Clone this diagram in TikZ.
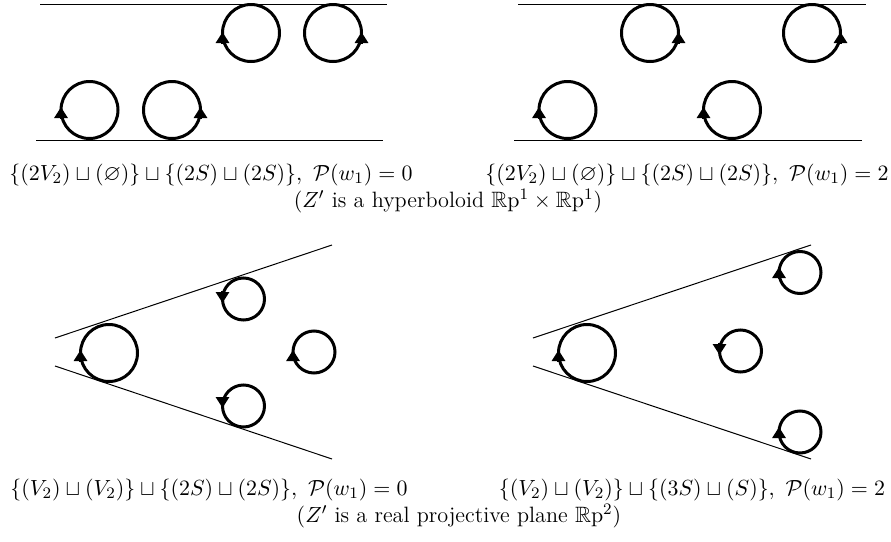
\documentclass[tikz,border=0pt]{standalone}
\usepackage{amsmath,amssymb}
\usepackage{tikz}
\usetikzlibrary{arrows.meta}

\begin{document}
\begin{tikzpicture}[x=0.5pt,y=-0.5pt,
			wall/.style={line width=0.5pt},
			loopline/.style={line width=1.5pt},
			tipmark/.style={line width=1.5pt, -{Triangle[length=5.5pt,width=6.5pt]}},
			caption/.style={inner sep=0pt, anchor=center, font=\fontsize{11.1}{13}\selectfont}]
			
			\useasboundingbox (0,0) rectangle (891,542);
			
			% hyperboloid, P(w_1)=0
			\draw[wall] (40,4) -- (387,4);
			\draw[wall] (36,140) -- (383,140);
			\draw[loopline] (251,33) circle[radius=28.5];
			\draw[loopline] (333,33) circle[radius=28.5];
			\draw[loopline] (89.5,110) circle[radius=28.5];
			\draw[loopline] (172,110) circle[radius=28.5];
			\draw[tipmark] (222.5,44) -- (222.5,32);
			\draw[tipmark] (361.5,44) -- (361.5,32);
			\draw[tipmark] (61,119) -- (61,107);
			\draw[tipmark] (200.5,119) -- (200.5,107);
			
			% hyperboloid, P(w_1)=2
			\draw[wall] (518,4) -- (866,4);
			\draw[wall] (514,140) -- (862,140);
			\draw[loopline] (650,33) circle[radius=28.5];
			\draw[loopline] (812,33) circle[radius=28.5];
			\draw[loopline] (567.5,110) circle[radius=28.5];
			\draw[loopline] (732,110) circle[radius=28.5];
			\draw[tipmark] (678.5,44) -- (678.5,32);
			\draw[tipmark] (840.5,44) -- (840.5,32);
			\draw[tipmark] (539,119) -- (539,107);
			\draw[tipmark] (703.5,119) -- (703.5,107);
			
			\node[caption] (capa) at (211,175) {$\{(2V_2)\sqcup(\varnothing)\}\sqcup\{(2S)\sqcup(2S)\},\ \mathcal{P}(w_1)=0$};
			\node[caption] (capb) at (687,175) {$\{(2V_2)\sqcup(\varnothing)\}\sqcup\{(2S)\sqcup(2S)\},\ \mathcal{P}(w_1)=2$};
			\node[caption] (capz) at (448,201) {$(Z'$ is a hyperboloid $\mathbb{R}\mathrm{p}^1\times\mathbb{R}\mathrm{p}^1)$};
			
			% projective plane, P(w_1)=0
			\draw[wall] (55,338) -- (332,245);
			\draw[wall] (55,366) -- (332,459);
			\draw[loopline] (109,353) circle[radius=28.5];
			\draw[loopline] (243.5,299) circle[radius=21];
			\draw[loopline] (314,352) circle[radius=21];
			\draw[loopline] (243.5,406) circle[radius=21];
			\draw[tipmark] (80.5,362) -- (80.5,350);
			\draw[tipmark] (222.5,291) -- (222.5,303);
			\draw[tipmark] (293,361) -- (293,350);
			\draw[tipmark] (222.5,397) -- (222.5,408);
			
			% projective plane, P(w_1)=2
			\draw[wall] (533,338) -- (811,245);
			\draw[wall] (533,366) -- (811,459);
			\draw[loopline] (587,353) circle[radius=28.5];
			\draw[loopline] (800,272.5) circle[radius=21];
			\draw[loopline] (740.5,351) circle[radius=21];
			\draw[loopline] (800,432) circle[radius=21];
			\draw[tipmark] (558.5,362) -- (558.5,350);
			\draw[tipmark] (779,279) -- (779,267);
			\draw[tipmark] (719.5,343) -- (719.5,355);
			\draw[tipmark] (779,438) -- (779,427);
			
			\node[caption] (capc) at (209,490) {$\{(V_2)\sqcup(V_2)\}\sqcup\{(2S)\sqcup(2S)\},\ \mathcal{P}(w_1)=0$};
			\node[caption] (capd) at (692,490) {$\{(V_2)\sqcup(V_2)\}\sqcup\{(3S)\sqcup(S)\},\ \mathcal{P}(w_1)=2$};
			\node[caption] (capp) at (459,516) {$(Z'$ is a real projective plane $\mathbb{R}\mathrm{p}^2)$};
			
		\end{tikzpicture}
\end{document}
